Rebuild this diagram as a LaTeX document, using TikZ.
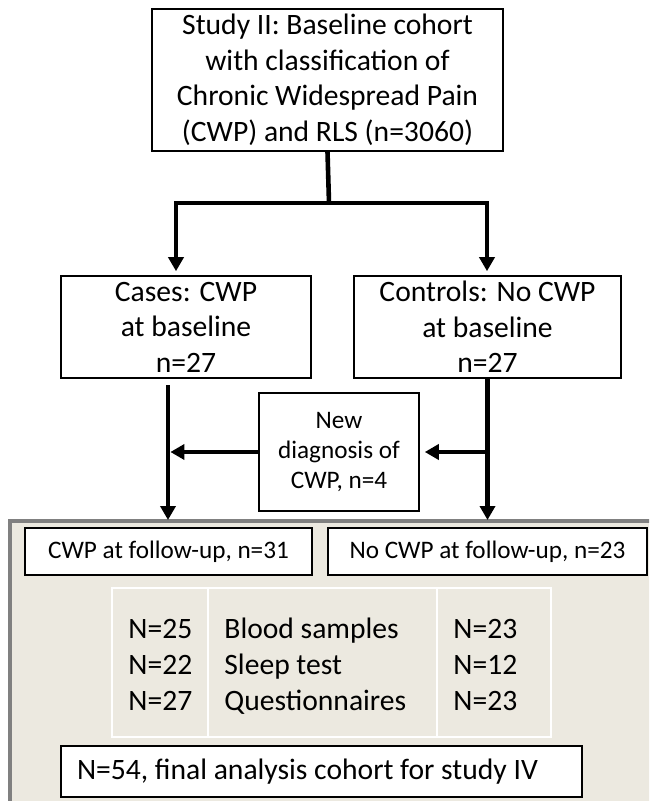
\documentclass[tikz,border=0pt]{standalone}
\usepackage{fontspec}
\setmainfont{Carlito}
\usetikzlibrary{arrows.meta}
\definecolor{panelfill}{RGB}{236,233,224}
\definecolor{panelgray}{RGB}{128,128,128}
\tikzset{
  box/.style={draw, line width=0.8pt, fill=white, align=center, inner sep=0pt},
  bigtext/.style={font=\fontsize{14.8}{17.75}\selectfont},
  smalltext/.style={font=\fontsize{12.6}{15.2}\selectfont},
  cell/.style={bigtext, inner sep=0pt, anchor=base west},
  link/.style={line width=2.3pt},
  flow/.style={line width=2.3pt, -{Triangle[length=7pt,width=7.5pt]}},
}

\begin{document}
\begin{tikzpicture}[x=0.5pt, y=-0.5pt]
	\clip (0,0) rectangle (649,801);
	
	% follow-up panel
	\draw[fill=panelfill, draw=panelgray, line width=2pt] (10,521) rectangle (700,850);
	\coordinate (ptop) at (0,520);
	
	\node[box, bigtext, minimum width=175.5pt, minimum height=71pt] (study) at (327.5,80) {Study II: Baseline cohort\\with classification of\\Chronic Widespread Pain\\(CWP) and RLS (n=3060)};
	
	\node[box, bigtext, minimum width=125pt, minimum height=51pt] (cases) at (186,327) {Cases: CWP\\at baseline\\n=27};
	\node[box, bigtext, minimum width=133.5pt, minimum height=51pt] (controls) at (487.5,327) {Controls: No CWP\\at baseline\\n=27};
	
	\node[box, smalltext, minimum width=80pt, minimum height=59pt] (newdx) at (339,452) {New\\diagnosis of\\CWP, n=4};
	
	\node[box, smalltext, minimum width=143.5pt, minimum height=23.5pt] (cwpfu) at (168.5,551.5) {CWP at follow-up, n=31};
	\node[box, smalltext, minimum width=159.5pt, minimum height=23.5pt] (nocwpfu) at (487.5,551.5) {No CWP at follow-up, n=23};
	
	% table of tests
	\draw[white, line width=1pt] (112,588) rectangle (551,737);
	\draw[white, line width=1pt] (208,588) -- (208,737);
	\draw[white, line width=1pt] (437,588) -- (437,737);
	\foreach \ca/\what/\cb [count=\r] in {N=25/Blood samples/N=23, N=22/Sleep test/N=12, N=27/Questionnaires/N=23} {
		\node[cell] (casesn\r) at (128,602+36*\r) {\ca};
		\node[cell] (test\r) at (224,602+36*\r) {\what};
		\node[cell] (controlsn\r) at (453,602+36*\r) {\cb};
	}
	
	\node[box, bigtext, minimum width=260.5pt, minimum height=25.5pt] (final) at (321.5,771.5) {\makebox[244.5pt][l]{N=54, final analysis cohort for study IV}};
	
	% connectors
	\coordinate (split) at (329,203);
	\coordinate (splitl) at (176,203);
	\coordinate (splitr) at (487,203);
	\draw[link] (study.south) -- (split);
	\draw[flow, shorten >=2pt] (split) -| (splitl |- cases.north);
	\draw[flow, shorten >=2pt] (split) -| (splitr |- controls.north);
	
	\coordinate (ldown) at (168,385);
	\draw[flow] (ldown) -- (ldown |- ptop);
	\draw[flow] (controls.south) -- (controls.south |- ptop);
	
	\draw[flow, shorten >=1.2pt] (newdx.west) -- (newdx.west -| ldown);
	\draw[flow, shorten >=2.5pt] (newdx.east -| controls.south) -- (newdx.east);
\end{tikzpicture}
\end{document}
